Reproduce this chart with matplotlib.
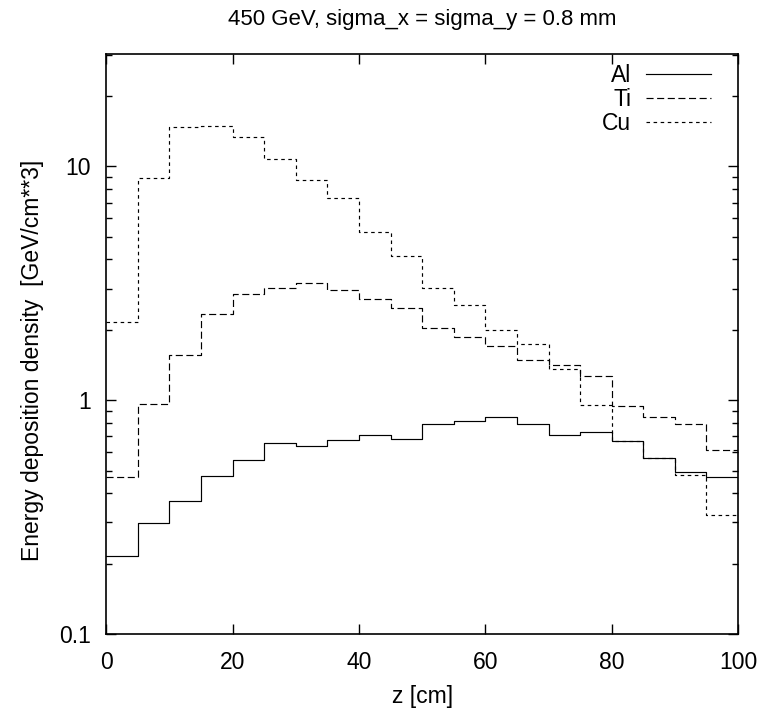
import matplotlib
matplotlib.use("Agg")
import matplotlib.pyplot as plt
from matplotlib.ticker import LogLocator, FixedLocator, NullFormatter
import numpy as np

plt.rcParams['font.family'] = ['Liberation Sans', 'DejaVu Sans']
plt.rcParams['font.size'] = 16.5

# bin edges along z [cm]
z_edges = [0, 5, 10, 15, 20, 25, 30, 35, 40, 45, 50,
           55, 60, 65, 70, 75, 80, 85, 90, 95, 100]

# energy deposition density per bin [GeV/cm**3]
al = [0.216, 0.299, 0.372, 0.474, 0.557, 0.655, 0.637, 0.676, 0.706, 0.683,
      0.792, 0.818, 0.843, 0.787, 0.711, 0.730, 0.671, 0.568, 0.494, 0.470]
ti = [0.471, 0.967, 1.56, 2.34, 2.85, 3.03, 3.17, 2.96, 2.72, 2.48,
      2.04, 1.87, 1.70, 1.49, 1.42, 1.27, 0.945, 0.843, 0.790, 0.613]
cu = [2.15, 8.91, 14.7, 14.8, 13.4, 10.7, 8.74, 7.29, 5.22, 4.14,
      3.01, 2.54, 2.00, 1.73, 1.36, 0.950, 0.672, 0.566, 0.479, 0.323]

fig = plt.figure(figsize=(7.61, 7.09), dpi=100)
ax = fig.add_axes([0.1397, 0.1058, 0.8301, 0.818])

def steps(vals):
    return list(vals) + [vals[-1]]

ax.step(z_edges, steps(al), where='post', color='black', lw=0.85, label='Al')
ax.step(z_edges, steps(ti), where='post', color='black', lw=0.85,
        dashes=(6, 3), label='Ti')
ax.step(z_edges, steps(cu), where='post', color='black', lw=0.85,
        dashes=(3, 3), label='Cu')

ax.set_yscale('log')
ax.set_xlim(0, 100)
ax.set_ylim(0.1, 30.2)
ax.xaxis.set_major_locator(FixedLocator([0, 20, 40, 60, 80, 100]))
ax.set_xticklabels(['0', '20', '40', '60', '80', '100'])
ax.yaxis.set_major_locator(FixedLocator([0.1, 1, 10]))
ax.set_yticklabels(['0.1', '1', '10'])
ax.yaxis.set_minor_locator(LogLocator(base=10, subs=np.arange(2, 10)))
ax.yaxis.set_minor_formatter(NullFormatter())

ax.tick_params(which='both', direction='in', top=True, right=True, width=1)
ax.tick_params(which='major', length=7)
ax.tick_params(which='minor', length=4)
ax.tick_params(axis='x', which='major', pad=12)
ax.tick_params(axis='y', which='major', pad=11)
for s in ax.spines.values():
    s.set_linewidth(1.2)

ax.set_xlabel('z [cm]', labelpad=8)
ax.set_ylabel('Energy deposition density  [GeV/cm**3]')
ax.yaxis.set_label_coords(-0.098, 0.471)
ax.set_title('450 GeV, sigma_x = sigma_y = 0.8 mm', pad=21, fontsize=16)

ax.legend(loc='upper right', bbox_to_anchor=(1.0, 1.031), frameon=False,
          markerfirst=False, handlelength=2.8, handletextpad=0.65,
          labelspacing=0.05, borderaxespad=0.8)

fig.savefig('out.png', dpi=100)
